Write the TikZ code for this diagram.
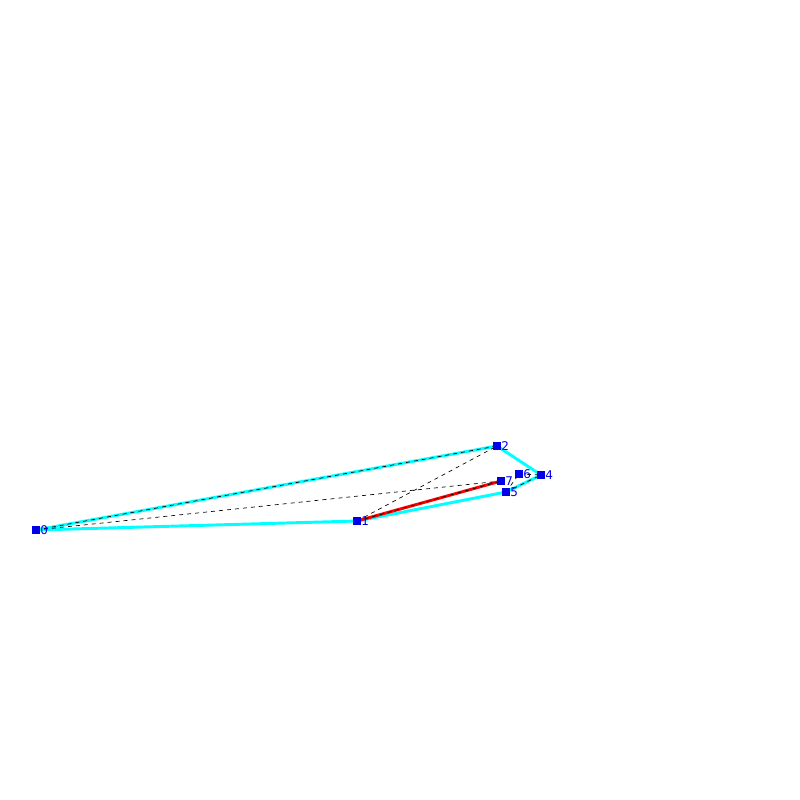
\documentclass[tikz,border=0pt]{standalone}
\usepackage{fontspec}
\setmainfont{DejaVu Sans}
\begin{document}
\begin{tikzpicture}[x=0.75pt,y=-0.75pt,
  pt/.style={fill={rgb,255:red,0;green,0;blue,230}, inner sep=0pt, minimum size=5.5pt, draw=none},
  lbl/.style={text={rgb,255:red,0;green,0;blue,230}, font=\fontsize{9}{9}\selectfont, inner sep=0pt, anchor=west},
  edge/.style={draw={rgb,255:red,0;green,255;blue,255}, line width=2.2pt},
  hull/.style={draw=red, line width=2.2pt},
  diag/.style={draw=black, line width=0.5pt, dash pattern=on 3pt off 3pt}]
\useasboundingbox[fill=white] (0,0) rectangle (800,800);
\coordinate (c0) at (36,530);
\coordinate (c1) at (357,521);
\coordinate (c2) at (497,446);
\coordinate (c4) at (541,475);
\coordinate (c5) at (506,492);
\coordinate (c6) at (519,474);
\coordinate (c7) at (501,481);
\draw[edge] (c0) -- (c2) -- (c4) -- (c5) -- (c1) -- cycle;
\draw[hull] (c1) -- (c7);
\draw[diag] (c0) -- (c2);
\draw[diag] (c0) -- (c7);
\draw[diag] (c1) -- (c2);
\draw[diag] (c1) -- (c7);
\draw[diag] (c5) -- (c6);
\draw[diag] (c6) -- (c4);
\draw[diag] (c5) -- (c4);
\foreach \i in {0,1,2,4,5,6,7} {
  \node[pt] (p\i) at (c\i) {};
  \node[lbl] (l\i) at ([xshift=3pt]c\i) {\i};
}
\end{tikzpicture}
\end{document}
